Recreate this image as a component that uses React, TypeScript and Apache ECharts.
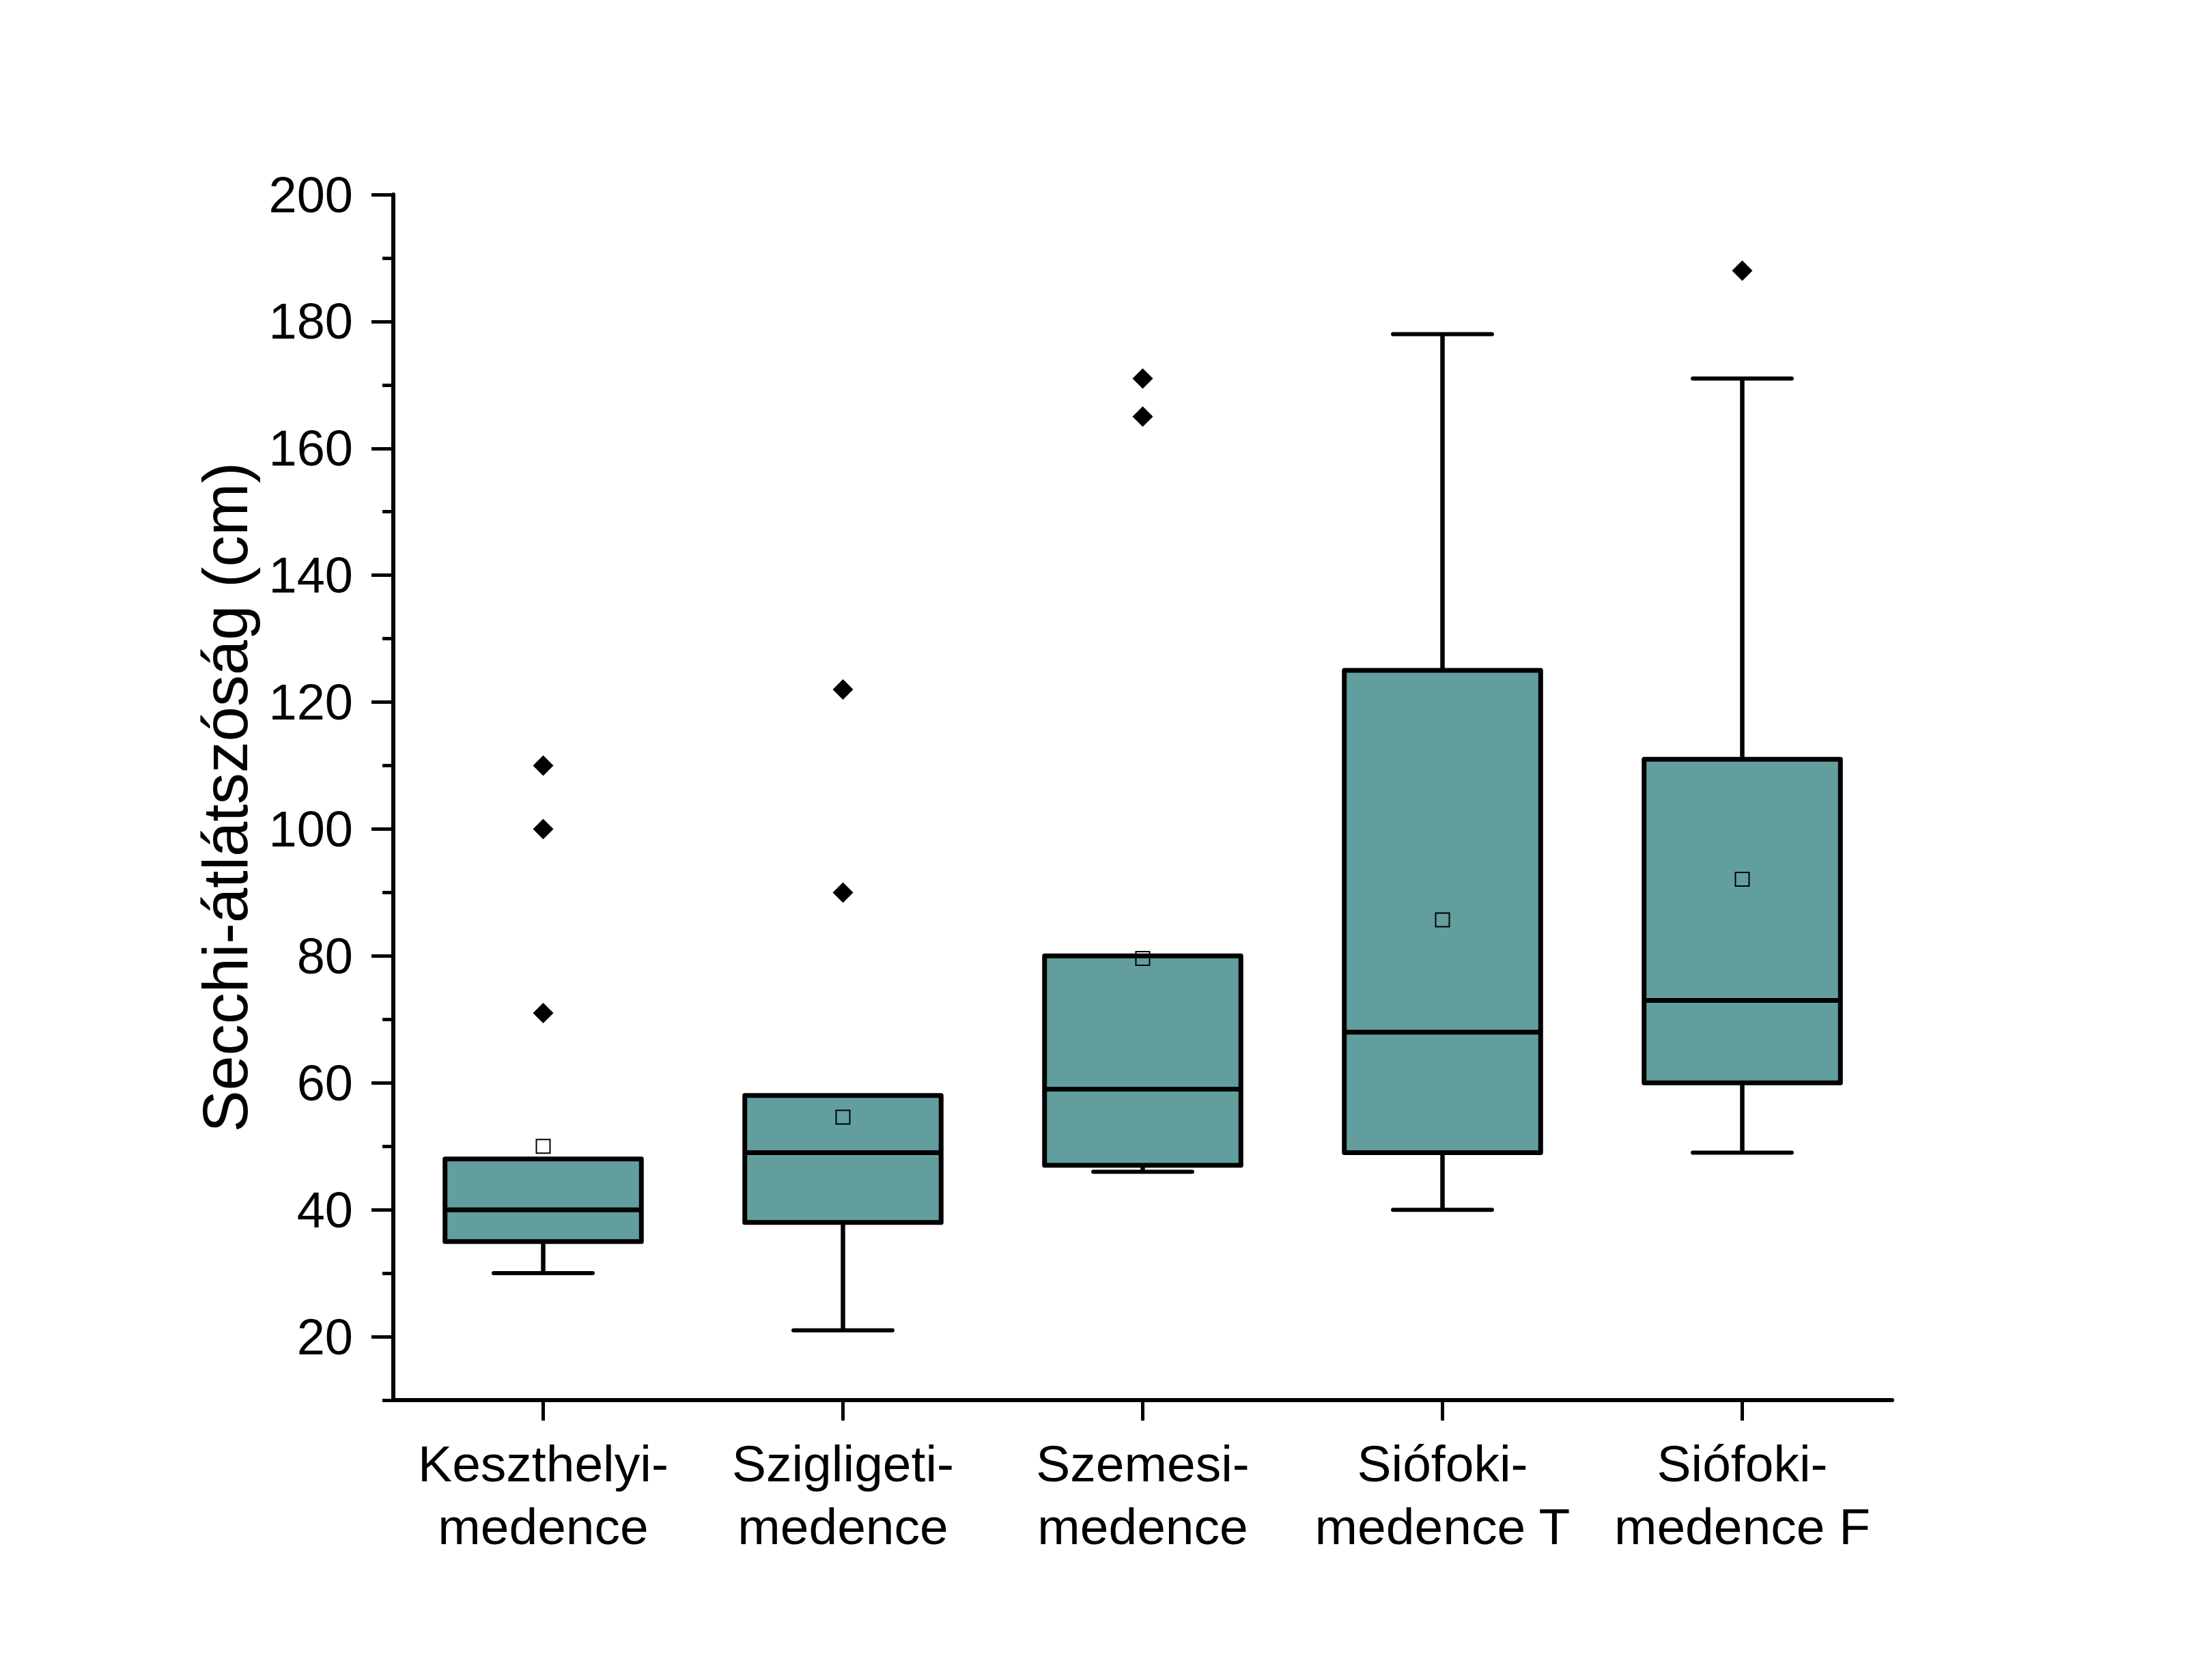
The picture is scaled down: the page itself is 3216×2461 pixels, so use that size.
import React, { useEffect, useRef } from 'react';
import * as echarts from 'echarts';

const categories = [
  'Keszthelyi-\nmedence',
  'Szigligeti-\nmedence',
  'Szemesi-\nmedence',
  'Siófoki-\nmedence T',
  'Siófoki-\nmedence F',
];
const whiskerLow = [30, 21, 46, 40, 49];
const q1 = [35, 38, 47, 49, 60];
const median = [40, 49, 59, 68, 73];
const q3 = [48, 58, 80, 125, 111];
const whiskerHigh = [48, 58, 80, 178, 171];
const means = [50, 54.6, 79.6, 85.7, 92.1];
const outlierCategory = [0, 0, 0, 1, 1, 2, 2, 4];
const outlierValue = [110, 100, 71, 122, 90, 171, 165, 188];
const majorTicks = [20, 40, 60, 80, 100, 120, 140, 160, 180, 200];
const minorTicks = [10, 30, 50, 70, 90, 110, 130, 150, 170, 190];
const yTitle = 'Secchi-átlátszóság (cm)';

const FONT = 'Liberation Sans, Arial, sans-serif';
const BOX_COLOR = '#639e9e';

export default function App() {
  const ref = useRef<HTMLDivElement>(null);

  useEffect(() => {
    if (!ref.current) return;
    const chart = echarts.init(ref.current, undefined, { renderer: 'svg' });

    const boxData = categories.map((_, i) => [i, whiskerLow[i], q1[i], median[i], q3[i], whiskerHigh[i]]);
    const outlierData = outlierCategory.map((c, i) => [c, outlierValue[i]]);
    const meanData = means.map((m, i) => [i, m]);

    const option: any = {
      animation: false,
      backgroundColor: '#ffffff',
      grid: { left: 568, top: 277, right: 437, bottom: 402, containLabel: false },
      xAxis: {
        type: 'category',
        data: categories,
        boundaryGap: true,
        axisLine: { show: true, onZero: false, lineStyle: { color: '#000', width: 6 } },
        axisTick: { show: true, alignWithLabel: true, length: 30, lineStyle: { color: '#000', width: 5 } },
        axisLabel: {
          interval: 0,
          color: '#000',
          fontFamily: FONT,
          fontSize: 75,
          lineHeight: 92,
          margin: 47,
        },
        splitLine: { show: false },
      },
      yAxis: [
        {
          type: 'value',
          min: 10,
          max: 200,
          position: 'left',
          name: yTitle,
          nameLocation: 'middle',
          nameGap: 200,
          nameRotate: 90,
          nameTextStyle: { color: '#000', fontFamily: FONT, fontSize: 92 },
          axisLine: { show: true, lineStyle: { color: '#000', width: 6 } },
          axisTick: { show: true, customValues: majorTicks, length: 32, lineStyle: { color: '#000', width: 5 } },
          axisLabel: {
            customValues: majorTicks,
            color: '#000',
            fontFamily: FONT,
            fontSize: 74,
            margin: 59,
          },
          splitLine: { show: false },
        },
        {
          type: 'value',
          min: 10,
          max: 200,
          position: 'left',
          axisLine: { show: false },
          axisTick: { show: true, customValues: minorTicks, length: 16, lineStyle: { color: '#000', width: 5 } },
          axisLabel: { show: false },
          splitLine: { show: false },
        },
      ],
      series: [
        {
          type: 'custom',
          xAxisIndex: 0,
          yAxisIndex: 0,
          encode: { x: 0, y: [1, 2, 3, 4, 5] },
          data: boxData,
          z: 2,
          renderItem: (params: any, api: any) => {
            const idx = api.value(0);
            const band = api.size([1, 0])[0];
            const boxW = band * 0.655;
            const capW = band * 0.33;
            const cx = api.coord([idx, 0])[0];
            const yLow = api.coord([idx, api.value(1)])[1];
            const yQ1 = api.coord([idx, api.value(2)])[1];
            const yMed = api.coord([idx, api.value(3)])[1];
            const yQ3 = api.coord([idx, api.value(4)])[1];
            const yHigh = api.coord([idx, api.value(5)])[1];
            const wStyle = { stroke: '#000', lineWidth: 6.5 };
            const children: any[] = [];
            if (yLow > yQ1 + 0.5) {
              children.push({ type: 'line', shape: { x1: cx, y1: yQ1, x2: cx, y2: yLow }, style: wStyle });
              children.push({ type: 'line', shape: { x1: cx - capW / 2, y1: yLow, x2: cx + capW / 2, y2: yLow }, style: { stroke: '#000', lineWidth: 6, lineCap: 'round' } });
            }
            if (yHigh < yQ3 - 0.5) {
              children.push({ type: 'line', shape: { x1: cx, y1: yQ3, x2: cx, y2: yHigh }, style: wStyle });
              children.push({ type: 'line', shape: { x1: cx - capW / 2, y1: yHigh, x2: cx + capW / 2, y2: yHigh }, style: { stroke: '#000', lineWidth: 6, lineCap: 'round' } });
            }
            children.push({
              type: 'rect',
              shape: { x: cx - boxW / 2, y: yQ3, width: boxW, height: yQ1 - yQ3 },
              style: { fill: BOX_COLOR, stroke: '#000', lineWidth: 7, lineJoin: 'round' },
            });
            children.push({
              type: 'line',
              shape: { x1: cx - boxW / 2, y1: yMed, x2: cx + boxW / 2, y2: yMed },
              style: { stroke: '#000', lineWidth: 7 },
            });
            return { type: 'group', children };
          },
        },
        {
          type: 'scatter',
          data: outlierData,
          symbol: 'diamond',
          symbolSize: 30,
          itemStyle: { color: '#000', opacity: 1 },
          z: 3,
        },
        {
          type: 'scatter',
          data: meanData,
          symbol: 'rect',
          symbolSize: 20,
          itemStyle: { color: 'rgba(0,0,0,0)', borderColor: '#000', borderWidth: 2, opacity: 1 },
          z: 4,
        },
      ],
    };

    chart.setOption(option);
    return () => chart.dispose();
  }, []);

  return <div ref={ref} style={{ width: 3200, height: 2445 }} />;
}
